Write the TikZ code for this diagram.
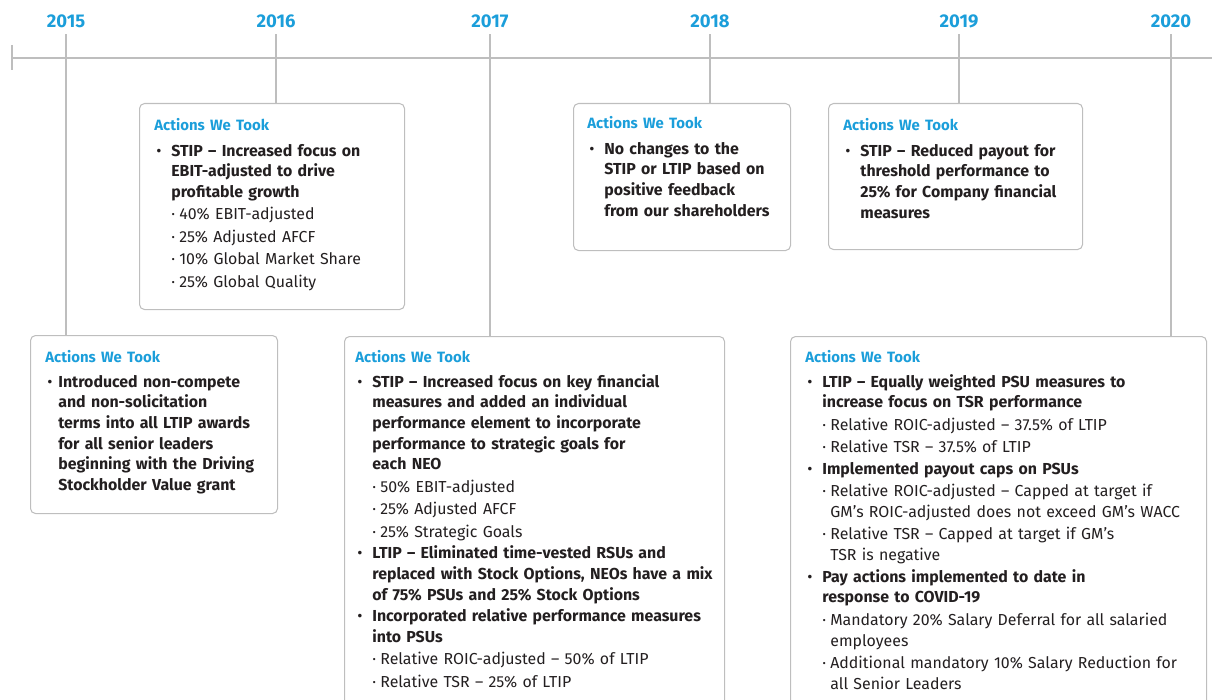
\documentclass[tikz,border=0pt]{standalone}
\usepackage{fontspec}
\setmainfont{Fira Sans}
\newcommand\lightfont{\mdseries}
\usetikzlibrary{positioning}
\definecolor{tlblue}{RGB}{27,158,218}
\definecolor{tlgray}{RGB}{190,190,190}
\definecolor{tltext}{RGB}{35,31,32}
\newlength\px \setlength\px{0.02cm}
\newlength\mainind \setlength\mainind{17\px}
\newcommand\acthead{{\bfseries\color{tlblue}\fontsize{8.5pt}{11.67pt}\selectfont Actions We Took}\par\vskip3.6\px}
\newcommand\mainpt[1]{\par\vskip0.4pt\noindent\hangindent=\mainind\hangafter=1%
 \makebox[\mainind][l]{\hspace{2\px}\textbullet}{\bfseries #1}\par}
\newcommand\subpt[1]{\par\vskip1pt\noindent\hangindent=25\px\hangafter=1%
 \hspace{17\px}\makebox[8\px][l]{\textperiodcentered}{\lightfont #1}\par}
\tikzset{
 year/.style={text=tlblue, inner ysep=3.5pt, font=\bfseries\fontsize{10.5pt}{12pt}\selectfont},
 stem/.style={draw=tlgray, line width=0.6pt},
 frame/.style={draw=tlgray, line width=0.6pt, rounded corners=5\px,
  anchor=north west, inner sep=0pt},
 acts/.style={anchor=base west, inner sep=0pt, text width=#1\px, text=tltext,
  font=\fontsize{9.05pt}{11.8pt}\selectfont,
  execute at begin node=\raggedright},
}
\begin{document}
\begin{tikzpicture}[x=0.02cm,y=-0.02cm]
\useasboundingbox (0,0) rectangle (1212,699);
\clip (0,0) rectangle (1212,699);
% timeline
\coordinate (tlstart) at (12,58);
\coordinate (tlend) at (1212,58);
\draw[stem] (tlstart) -- (tlend);
\draw[stem] (12,45) -- (12,70);
\node[year] (y2015) at (66,21) {2015};
\node[year] (y2016) at (276,21) {2016};
\node[year] (y2017) at (490,21) {2017};
\node[year] (y2018) at (710,21) {2018};
\node[year] (y2019) at (959,21) {2019};
\node[year] (y2020) at (1171,21) {2020};
% frames
\node[frame, minimum width=247\px, minimum height=178\px] (b2015) at (30,335) {};
\node[frame, minimum width=265\px, minimum height=206\px] (b2016) at (139,103) {};
\node[frame, minimum width=380\px, minimum height=400\px] (b2017) at (344,336) {};
\node[frame, minimum width=217\px, minimum height=147\px] (b2018) at (573,103) {};
\node[frame, minimum width=254\px, minimum height=146\px] (b2019) at (828,103) {};
\node[frame, minimum width=416\px, minimum height=400\px] (b2020) at (790,336) {};
% stems
\draw[stem] (y2015.south) -- (y2015.south |- b2015.north);
\draw[stem] (y2016.south) -- (y2016.south |- b2016.north);
\draw[stem] (y2017.south) -- (y2017.south |- b2017.north);
\draw[stem] (y2018.south) -- (y2018.south |- b2018.north);
\draw[stem] (y2019.south) -- (y2019.south |- b2019.north);
\draw[stem] (y2020.south) -- (y2020.south |- b2020.north);
% texts
\node[acts=245] (t2015) at ([shift={(15,27)}]b2015.north west) {\setlength\mainind{13\px}\acthead
 \mainpt{Introduced non-compete\newline and non-solicitation\newline terms into all LTIP awards\newline
 for all senior leaders\newline beginning with the Driving\newline Stockholder Value grant}};
\node[acts=265] (t2016) at ([shift={(15,28)}]b2016.north west) {\acthead
 \mainpt{STIP – Increased focus on\newline EBIT-adjusted to drive\newline profitable growth}
 \subpt{40\% EBIT-adjusted}
 \subpt{25\% Adjusted AFCF}
 \subpt{10\% Global Market Share}
 \subpt{25\% Global Quality}};
\node[acts=380] (t2017) at ([shift={(11,26)}]b2017.north west) {\acthead
 \mainpt{STIP – Increased focus on key financial\newline measures and added an individual\newline
 performance element to incorporate\newline performance to strategic goals for\newline each NEO}
 \subpt{50\% EBIT-adjusted}
 \subpt{25\% Adjusted AFCF}
 \subpt{25\% Strategic Goals}
 \mainpt{LTIP – Eliminated time-vested RSUs and\newline replaced with Stock Options, NEOs have a mix\newline
 of 75\% PSUs and 25\% Stock Options}
 \mainpt{Incorporated relative performance measures\newline into PSUs}
 \subpt{Relative ROIC-adjusted – 50\% of LTIP}
 \subpt{Relative TSR – 25\% of LTIP}};
\node[acts=217] (t2018) at ([shift={(14,26)}]b2018.north west) {\acthead
 \mainpt{No changes to the\newline STIP or LTIP based on\newline positive feedback\newline from our shareholders}};
\node[acts=254] (t2019) at ([shift={(15,28)}]b2019.north west) {\acthead
 \mainpt{STIP – Reduced payout for\newline threshold performance to\newline 25\% for Company financial\newline measures}};
\node[acts=416] (t2020) at ([shift={(15,26)}]b2020.north west) {\acthead
 \mainpt{LTIP – Equally weighted PSU measures to\newline increase focus on TSR performance}
 \subpt{Relative ROIC-adjusted – 37.5\% of LTIP}
 \subpt{Relative TSR – 37.5\% of LTIP}
 \mainpt{Implemented payout caps on PSUs}
 \subpt{Relative ROIC-adjusted – Capped at target if\newline GM’s ROIC-adjusted does not exceed GM’s WACC}
 \subpt{Relative TSR – Capped at target if GM’s\newline TSR is negative}
 \mainpt{Pay actions implemented to date in\newline response to COVID-19}
 \subpt{Mandatory 20\% Salary Deferral for all salaried\newline employees}
 \subpt{Additional mandatory 10\% Salary Reduction for\newline all Senior Leaders}};
\end{tikzpicture}
\end{document}
